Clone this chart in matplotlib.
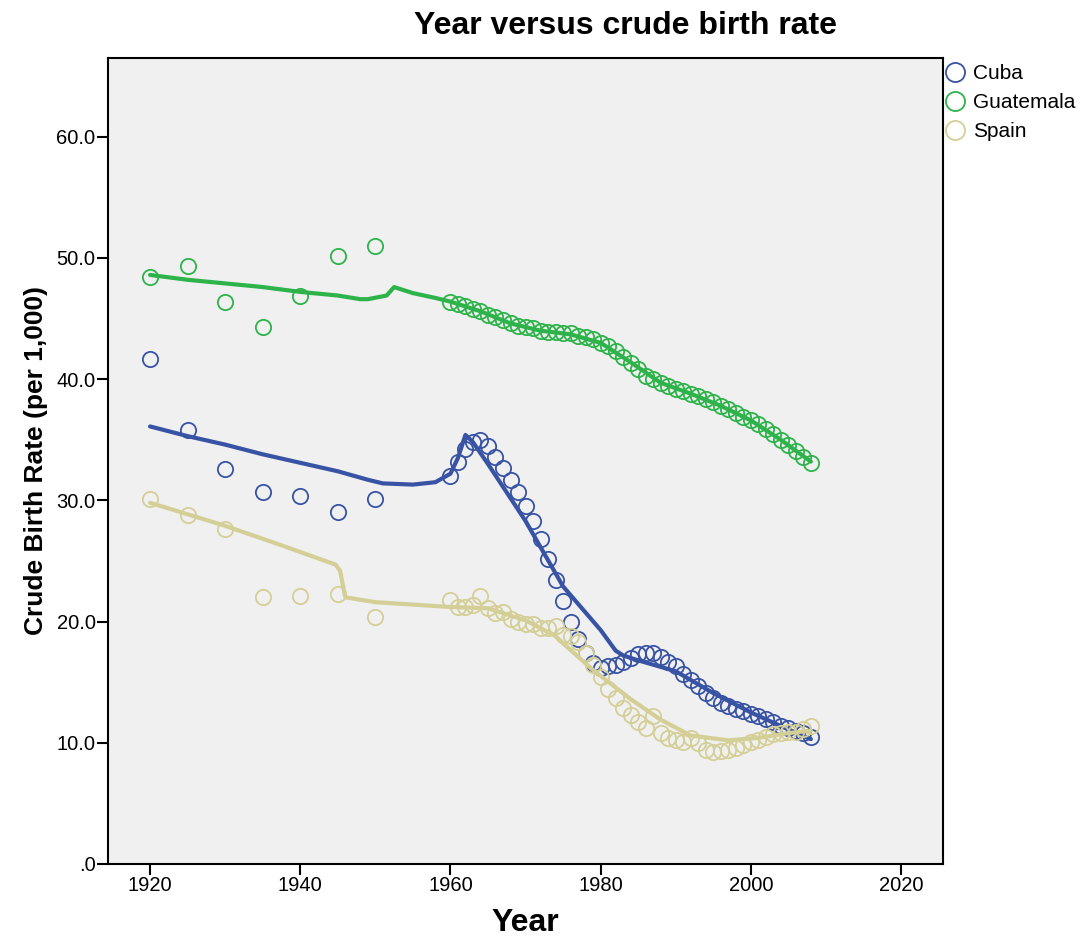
import numpy as np
import matplotlib
matplotlib.use("Agg")
import matplotlib.pyplot as plt

plt.rcParams['font.family'] = ['Liberation Sans', 'DejaVu Sans']

# observed crude birth rates (per 1,000)
years = [1920, 1925, 1930, 1935, 1940, 1945, 1950] + list(range(1960, 2009))

cuba = [41.7, 35.8, 32.6, 30.7, 30.4, 29.0, 30.1,
        32.0, 33.2, 34.2, 34.8, 35.0, 34.5, 33.6, 32.7, 31.7, 30.7,
        29.5, 28.3, 26.8, 25.2, 23.4, 21.7, 20.0, 18.6, 17.4, 16.6,
        16.2, 16.3, 16.4, 16.7, 17.0, 17.3, 17.4, 17.4, 17.1, 16.7,
        16.3, 15.7, 15.2, 14.7, 14.1, 13.7, 13.3, 13.0, 12.8, 12.6,
        12.4, 12.2, 12.0, 11.7, 11.4, 11.2, 11.0, 10.8, 10.5]

guatemala = [48.4, 49.3, 46.4, 44.3, 46.9, 50.2, 51.0,
             46.4, 46.2, 46.0, 45.8, 45.6, 45.3, 45.1, 44.9, 44.6, 44.4,
             44.3, 44.2, 44.0, 43.9, 43.9, 43.8, 43.8, 43.6, 43.5, 43.3,
             43.0, 42.7, 42.3, 41.8, 41.3, 40.8, 40.3, 40.0, 39.7, 39.4,
             39.2, 39.0, 38.8, 38.6, 38.4, 38.1, 37.8, 37.5, 37.2, 36.9,
             36.6, 36.3, 35.9, 35.5, 35.0, 34.6, 34.1, 33.6, 33.1]

spain = [30.1, 28.8, 27.6, 22.0, 22.1, 22.3, 20.4,
         21.8, 21.2, 21.2, 21.4, 22.1, 21.1, 20.7, 20.8, 20.2, 20.0,
         19.8, 19.8, 19.5, 19.5, 19.6, 18.9, 18.8, 18.3, 17.4, 16.4,
         15.4, 14.4, 13.7, 12.9, 12.3, 11.7, 11.2, 12.2, 10.8, 10.4,
         10.2, 10.1, 10.4, 10.0, 9.4, 9.2, 9.3, 9.4, 9.6, 9.8,
         10.1, 10.2, 10.5, 10.7, 10.8, 10.9, 10.9, 11.1, 11.4]

# fitted (smoothed) lines
cuba_fit_years = [1920, 1925, 1930, 1935, 1940, 1945, 1949, 1951, 1955, 1958,
                  1960, 1961, 1962, 1963, 1965, 1970, 1975, 1980, 1982, 1983,
                  1985, 1990, 1995, 2000, 2005, 2008]
cuba_fit = [36.1, 35.3, 34.6, 33.8, 33.1, 32.4, 31.7, 31.4, 31.3, 31.5,
            32.2, 33.5, 35.4, 34.8, 33.0, 28.3, 22.9, 19.3, 17.6, 17.2,
            16.8, 15.9, 14.1, 12.5, 11.1, 10.3]

guat_fit_years = [1920, 1925, 1930, 1935, 1940, 1945, 1948, 1949, 1951.5, 1952.5,
                  1955, 1958, 1960, 1964, 1968, 1972, 1976, 1980, 1984, 1988,
                  1992, 1996, 2000, 2004, 2008]
guat_fit = [48.6, 48.2, 47.9, 47.6, 47.2, 46.9, 46.6, 46.6, 46.9, 47.6,
            47.1, 46.7, 46.4, 45.6, 44.6, 44.0, 43.7, 43.0, 41.4, 39.7,
            38.8, 37.8, 36.6, 35.0, 33.2]

spain_fit_years = [1920, 1930, 1937, 1944.7, 1945.3, 1946, 1950, 1955, 1960, 1965,
                   1970, 1974, 1975, 1979, 1984, 1988, 1992, 1997, 2001, 2005, 2008]
spain_fit = [29.8, 27.9, 26.4, 24.7, 24.2, 22.0, 21.6, 21.4, 21.2, 21.1,
             20.1, 18.8, 18.2, 16.0, 13.6, 11.9, 10.6, 10.2, 10.4, 10.8, 11.0]

countries = ["Cuba", "Guatemala", "Spain"]
colors = ["#3953a4", "#2db34a", "#d4cf96"]

fig = plt.figure(figsize=(10.78, 9.4), dpi=100)
ax = fig.add_axes([0.1002, 0.0809, 0.7746, 0.8574])
ax.set_facecolor("#f0f0f0")

series = [(cuba, cuba_fit_years, cuba_fit),
          (guatemala, guat_fit_years, guat_fit),
          (spain, spain_fit_years, spain_fit)]

for name, col, (vals, fy, fv) in zip(countries, colors, series):
    ax.plot(years, vals, linestyle="none", marker="o", markersize=11,
            markerfacecolor="none", markeredgecolor=col, markeredgewidth=1.3,
            label=name)
    ax.plot(fy, fv, color=col, linewidth=3, solid_capstyle="round")

ax.set_xlim(1914.4, 2025.6)
ax.set_ylim(0, 66.5)
ax.set_xticks([1920, 1940, 1960, 1980, 2000, 2020])
ax.set_yticks([0, 10, 20, 30, 40, 50, 60])
ax.set_yticklabels([".0", "10.0", "20.0", "30.0", "40.0", "50.0", "60.0"])
ax.tick_params(labelsize=14.5, length=8, width=1.5, pad=1, colors="black")
for s in ax.spines.values():
    s.set_linewidth(1.5)

ax.set_xlabel("Year", fontsize=23, fontweight="bold", labelpad=9)
ax.set_ylabel("Crude Birth Rate (per 1,000)", fontsize=19, fontweight="bold", labelpad=6)
fig.text(0.58, 1 - 34 / 940, "Year versus crude birth rate", ha="center",
         va="baseline", fontsize=23, fontweight="bold")

fig.legend(loc="upper left", bbox_to_anchor=(0.8766, 0.932), frameon=False,
           fontsize=15, handletextpad=0.35, labelspacing=0.48, borderaxespad=0,
           borderpad=0, handlelength=1.0, markerscale=1.25)

fig.savefig("out.png", dpi=100)
